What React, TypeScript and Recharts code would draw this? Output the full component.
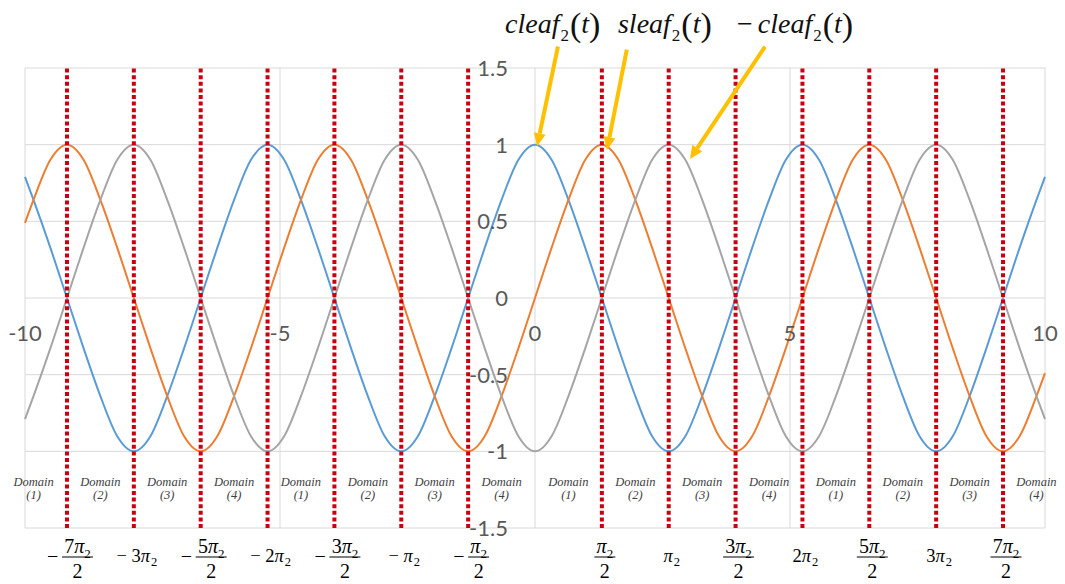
import React from 'react';
import { ComposedChart, XAxis, YAxis, Line, ReferenceLine, ReferenceDot } from 'recharts';

// sample points t (step = π2/8, plus the ±10 ends)
const T = [-10, -9.833, -9.505, -9.177, -8.849, -8.522, -8.194, -7.866, -7.538, -7.211, -6.883, -6.555, -6.227, -5.9, -5.572, -5.244, -4.916, -4.589, -4.261, -3.933, -3.605, -3.278, -2.95, -2.622, -2.294, -1.967, -1.639, -1.311, -0.983, -0.656, -0.328, 0, 0.328, 0.656, 0.983, 1.311, 1.639, 1.967, 2.294, 2.622, 2.95, 3.278, 3.605, 3.933, 4.261, 4.589, 4.916, 5.244, 5.572, 5.9, 6.227, 6.555, 6.883, 7.211, 7.538, 7.866, 8.194, 8.522, 8.849, 9.177, 9.505, 9.833, 10];

const cleaf = [0.79, 0.64, 0.33, 0, -0.33, -0.64, -0.9, -1, -0.9, -0.64, -0.33, 0, 0.33, 0.64, 0.9, 1, 0.9, 0.64, 0.33, 0, -0.33, -0.64, -0.9, -1, -0.9, -0.64, -0.33, 0, 0.33, 0.64, 0.9, 1, 0.9, 0.64, 0.33, 0, -0.33, -0.64, -0.9, -1, -0.9, -0.64, -0.33, 0, 0.33, 0.64, 0.9, 1, 0.9, 0.64, 0.33, 0, -0.33, -0.64, -0.9, -1, -0.9, -0.64, -0.33, 0, 0.33, 0.64, 0.79];

const sleaf = [0.49, 0.64, 0.9, 1, 0.9, 0.64, 0.33, 0, -0.33, -0.64, -0.9, -1, -0.9, -0.64, -0.33, 0, 0.33, 0.64, 0.9, 1, 0.9, 0.64, 0.33, 0, -0.33, -0.64, -0.9, -1, -0.9, -0.64, -0.33, 0, 0.33, 0.64, 0.9, 1, 0.9, 0.64, 0.33, 0, -0.33, -0.64, -0.9, -1, -0.9, -0.64, -0.33, 0, 0.33, 0.64, 0.9, 1, 0.9, 0.64, 0.33, 0, -0.33, -0.64, -0.9, -1, -0.9, -0.64, -0.49];

const negCleaf = [-0.79, -0.64, -0.33, 0, 0.33, 0.64, 0.9, 1, 0.9, 0.64, 0.33, 0, -0.33, -0.64, -0.9, -1, -0.9, -0.64, -0.33, 0, 0.33, 0.64, 0.9, 1, 0.9, 0.64, 0.33, 0, -0.33, -0.64, -0.9, -1, -0.9, -0.64, -0.33, 0, 0.33, 0.64, 0.9, 1, 0.9, 0.64, 0.33, 0, -0.33, -0.64, -0.9, -1, -0.9, -0.64, -0.33, 0, 0.33, 0.64, 0.9, 1, 0.9, 0.64, 0.33, 0, -0.33, -0.64, -0.79];

// axes ticks
const xTicks = [-10, -5, 0, 5, 10];
const xTickLabels = ['-10', '-5', '0', '5', '10'];
const yTicks = [1.5, 1, 0.5, 0, -0.5, -1, -1.5];
const yTickLabels = ['1.5', '1', '0.5', '0', '-0.5', '-1', '-1.5'];

// domain boundaries at multiples of π2/2
const piLines = [-9.177, -7.866, -6.555, -5.244, -3.933, -2.622, -1.311, 1.311, 2.622, 3.933, 5.244, 6.555, 7.866, 9.177];
const piSigns = ['−', '−', '−', '−', '−', '−', '−', '', '', '', '', '', '', ''];
const piCoefs = ['7', '3', '5', '2', '3', '', '', '', '', '3', '2', '5', '3', '7'];
const piDenoms = ['2', '', '2', '', '2', '', '2', '2', '', '2', '', '2', '', '2'];

// domain captions, centred in each half-period segment
const domainCenters = [-9.833, -8.522, -7.211, -5.9, -4.589, -3.278, -1.967, -0.656, 0.656, 1.967, 3.278, 4.589, 5.9, 7.211, 8.522, 9.833];
const domainNums = [1, 2, 3, 4, 1, 2, 3, 4, 1, 2, 3, 4, 1, 2, 3, 4];
const domainLabelY = -1.2;

// function name annotations and their arrows
const fnNames = ['cleaf', 'sleaf', 'cleaf'];
const fnNeg = [false, false, true];
const fnLabelX = [-0.588, 1.627, 3.96];
const fnLabelY = 1.73;
const arrowFrom = [{ x: 0.45, y: 1.64 }, { x: 1.8, y: 1.62 }, { x: 4.51, y: 1.64 }];
const arrowTo = [{ x: 0.04, y: 0.99 }, { x: 1.41, y: 0.965 }, { x: 3.04, y: 0.907 }];

const rows = T.map((t, i) => ({ t, c: cleaf[i], s: sleaf[i], n: negCleaf[i] }));

const AXIS_FONT = { fontFamily: "Lato, 'Open Sans', sans-serif" };
const MATH_FONT = { fontFamily: "'Liberation Serif', 'DejaVu Serif', serif" };
const GRID = '#D9D9D9';
const ARROW = '#FFC000';

const Arrow = (p: any) => {
  const { x1, y1, x2, y2 } = p;
  const dx = x2 - x1;
  const dy = y2 - y1;
  const len = Math.sqrt(dx * dx + dy * dy) || 1;
  const ux = dx / len;
  const uy = dy / len;
  const headL = 13;
  const headW = 6;
  const bx = x2 - ux * headL;
  const by = y2 - uy * headL;
  return (
    <g>
      <line x1={x1} y1={y1} x2={bx} y2={by} stroke={ARROW} strokeWidth={4} />
      <polygon
        points={`${x2},${y2} ${bx - uy * headW},${by + ux * headW} ${bx + uy * headW},${by - ux * headW}`}
        fill={ARROW}
      />
    </g>
  );
};

const PiLabel = (cx: number, cy: number, sign: string, coef: string, den: string) => {
  if (den) {
    const numW = (coef ? 10 : 0) + 11 + 7;
    const barW = numW + 3;
    const minusW = sign ? 15 : 0;
    const total = minusW + barW;
    const left = cx + 3 - total / 2;
    const fx = left + minusW + barW / 2;
    return (
      <g style={MATH_FONT} fill="#000">
        {sign && (
          <text x={left} y={cy + 35} fontSize={20} style={MATH_FONT}>
            {sign}
          </text>
        )}
        <text x={fx} y={cy + 25} fontSize={20} textAnchor="middle" style={MATH_FONT}>
          {coef}
          <tspan fontStyle="italic">π</tspan>
          <tspan fontSize={13} dy={5}>2</tspan>
        </text>
        <line x1={fx - barW / 2} x2={fx + barW / 2} y1={cy + 29} y2={cy + 29} stroke="#000" strokeWidth={1} />
        <text x={fx} y={cy + 50} fontSize={20} textAnchor="middle" style={MATH_FONT}>
          2
        </text>
      </g>
    );
  }
  return (
    <text x={cx + 3} y={cy + 34} fontSize={18.5} textAnchor="middle" style={MATH_FONT} fill="#000">
      {sign ? sign + ' ' : ''}
      {coef}
      <tspan fontStyle="italic">π</tspan>
      <tspan fontSize={12.5} dy={4} dx={1}>2</tspan>
    </text>
  );
};

export default function App() {
  return (
    <div style={{ position: 'absolute', left: 0, top: 0, width: 1065, height: 584, background: '#fff' }}>
      <ComposedChart width={1065} height={584} data={rows} margin={{ top: 68, right: 20, bottom: 56, left: 25 }}>
        <XAxis type="number" dataKey="t" domain={[-10, 10]} hide />
        <YAxis type="number" domain={[-1.5, 1.5]} hide />

        {yTicks.map((v) => (
          <ReferenceLine key={'gy' + v} y={v} stroke={GRID} strokeWidth={1} />
        ))}
        {xTicks.map((v) => (
          <ReferenceLine key={'gx' + v} x={v} stroke={GRID} strokeWidth={1} />
        ))}

        <Line type="monotone" dataKey="c" stroke="#5B9BD5" strokeWidth={2} dot={false} activeDot={false} isAnimationActive={false} />
        <Line type="monotone" dataKey="s" stroke="#ED7D31" strokeWidth={2} dot={false} activeDot={false} isAnimationActive={false} />
        <Line type="monotone" dataKey="n" stroke="#A5A5A5" strokeWidth={2} dot={false} activeDot={false} isAnimationActive={false} />

        {piLines.map((v) => (
          <ReferenceLine key={'pl' + v} x={v} stroke="#C80010" strokeWidth={4} strokeDasharray="4 2.6" />
        ))}

        {yTicks.map((v, i) => (
          <ReferenceDot
            key={'yl' + v}
            x={0}
            y={v}
            r={0}
            ifOverflow="visible"
            shape={(p: any) => (
              <text x={p.cx - 27} y={p.cy + 8} textAnchor="end" style={AXIS_FONT} fontSize={22} fill="#595959">
                {yTickLabels[i]}
              </text>
            )}
          />
        ))}
        {xTicks.map((v, i) => (
          <ReferenceDot
            key={'xl' + v}
            x={v}
            y={0}
            r={0}
            ifOverflow="visible"
            shape={(p: any) => (
              <text x={p.cx} y={p.cy + 43} textAnchor="middle" style={AXIS_FONT} fontSize={22} fill="#595959">
                {xTickLabels[i]}
              </text>
            )}
          />
        ))}

        {domainCenters.map((v, i) => (
          <ReferenceDot
            key={'dm' + v}
            x={v}
            y={domainLabelY}
            r={0}
            ifOverflow="visible"
            shape={(p: any) => (
              <g fill="#404040">
                <text x={p.cx} y={p.cy + 4} textAnchor="middle" fontStyle="italic" fontSize={12.5} style={MATH_FONT}>
                  Domain
                </text>
                <text x={p.cx} y={p.cy + 17} textAnchor="middle" fontStyle="italic" fontSize={12.5} style={MATH_FONT}>
                  ({domainNums[i]})
                </text>
              </g>
            )}
          />
        ))}

        {piLines.map((v, i) => (
          <ReferenceDot
            key={'pb' + v}
            x={v}
            y={-1.5}
            r={0}
            ifOverflow="visible"
            shape={(p: any) => PiLabel(p.cx, p.cy, piSigns[i], piCoefs[i], piDenoms[i])}
          />
        ))}

        {fnNames.map((name, i) => (
          <ReferenceDot
            key={'fn' + i}
            x={fnLabelX[i]}
            y={fnLabelY}
            r={0}
            ifOverflow="visible"
            shape={(p: any) => (
              <text x={p.cx} y={p.cy} style={MATH_FONT} fill="#111">
                {fnNeg[i] && <tspan fontSize={28}>−</tspan>}
                <tspan fontSize={28} fontStyle="italic" dx={fnNeg[i] ? 5 : 0}>{name}</tspan>
                <tspan fontSize={17} dy={8} dx={1}>2</tspan>
                <tspan fontSize={34} dy={-5} dx={1}>(</tspan>
                <tspan fontSize={28} fontStyle="italic" dy={-3}>t</tspan>
                <tspan fontSize={34} dy={3}>)</tspan>
              </text>
            )}
          />
        ))}

        {arrowFrom.map((a, i) => (
          <ReferenceLine
            key={'ar' + i}
            segment={[a, arrowTo[i]]}
            ifOverflow="visible"
            stroke={ARROW}
            shape={(p: any) => <Arrow {...p} />}
          />
        ))}
      </ComposedChart>
    </div>
  );
}
